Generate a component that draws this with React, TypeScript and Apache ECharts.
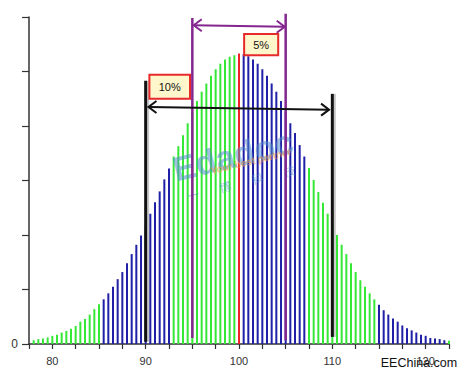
import React, { useEffect, useRef } from "react";
import * as echarts from "echarts";

// bar positions (x values) and heights (arbitrary units, y axis 0..6)
const positions = [
  78, 78.5, 79, 79.5, 80, 80.5, 81, 81.5, 82, 82.5, 83, 83.5, 84, 84.5, 85,
  85.5, 86, 86.5, 87, 87.5, 88, 88.5, 89, 89.5, 90, 90.5, 91, 91.5, 92, 92.5,
  93, 93.5, 94, 94.5, 95, 95.5, 96, 96.5, 97, 97.5, 98, 98.5, 99, 99.5,
  100,
  100.5, 101, 101.5, 102, 102.5, 103, 103.5, 104, 104.5, 105, 105.5, 106, 106.5, 107,
  107.5, 108, 108.5, 109, 109.5, 110, 110.5, 111, 111.5, 112, 112.5, 113, 113.5, 114, 114.5,
  115, 115.5, 116, 116.5, 117, 117.5, 118, 118.5, 119, 119.5, 120, 120.5, 121, 121.5, 122,
  122.5,
];
const heights = [
  0.07, 0.09, 0.1, 0.12, 0.15, 0.17, 0.21, 0.24, 0.28, 0.33, 0.41, 0.46, 0.54, 0.64, 0.73,
  0.82, 0.93, 1.05, 1.19, 1.32, 1.48, 1.65, 1.82, 1.99, 2.18, 2.39, 2.6, 2.8, 3.02, 3.22,
  3.44, 3.63, 3.83, 4.05, 4.26, 4.46, 4.63, 4.78, 4.92, 5.04, 5.14, 5.22, 5.27, 5.3,
  5.33,
  5.32, 5.28, 5.22, 5.14, 5.04, 4.92, 4.78, 4.63, 4.46, 4.26, 4.05, 3.87, 3.65, 3.44,
  3.23, 3.01, 2.79, 2.59, 2.39, 2.18, 2.0, 1.82, 1.65, 1.48, 1.32, 1.17, 1.05, 0.93, 0.82,
  0.72, 0.62, 0.54, 0.47, 0.41, 0.34, 0.29, 0.25, 0.21, 0.17, 0.15, 0.11, 0.1, 0.09, 0.07,
  0.06,
];
// colour bands: last x of each band and its colour
const bandEnds = [85, 92.5, 99.5, 100, 107, 114.5, 122, 122.5];
const bandColors = ["#35e835", "#1f1fa8", "#35e835", "#f02424", "#1f1fa8", "#35e835", "#1f1fa8", "#35e835"];

const xLabels = [80, 90, 100, 110, 120];
const yLabels = [0];

// annotation values (data units)
const tolerance10 = [90, 110];
const tolerance5 = [95, 105];
const label10 = "10%";
const label5 = "5%";

const BLUE = "#1f1fa8";
const PURPLE = "#84268f";

function colorFor(x: number) {
  for (let i = 0; i < bandEnds.length; i++) if (x <= bandEnds[i]) return bandColors[i];
  return bandColors[bandColors.length - 1];
}

export default function App() {
  const ref = useRef<HTMLDivElement>(null);
  useEffect(() => {
    if (!ref.current) return;
    const chart = echarts.init(ref.current, undefined, { renderer: "svg" });
    chart.setOption({
      animation: false,
      backgroundColor: "#ffffff",
      grid: { left: 29, right: 13, top: 17, bottom: 33 },
      xAxis: {
        type: "value",
        min: 77.5,
        max: 122.5,
        interval: 2.5,
        splitLine: { show: false },
        axisLine: { lineStyle: { color: "#333", width: 1.5 } },
        axisTick: { length: 5, lineStyle: { color: "#333", width: 1.2 } },
        axisLabel: {
          margin: 11,
          color: "#333",
          fontSize: 11,
          fontFamily: "Liberation Sans",
          formatter: (v: number) => (xLabels.indexOf(v) >= 0 ? String(v) : ""),
        },
      },
      yAxis: {
        type: "value",
        min: 0,
        max: 6,
        interval: 1,
        splitLine: { show: false },
        axisLine: { show: true, lineStyle: { color: "#333", width: 1.5 } },
        axisTick: { show: true, length: 7, lineStyle: { color: "#333", width: 1.2 } },
        axisLabel: {
          margin: 11,
          color: "#333",
          fontSize: 12,
          fontFamily: "Liberation Sans",
          formatter: (v: number) => (yLabels.indexOf(v) >= 0 ? String(v) : ""),
        },
      },
      series: [
        {
          type: "bar",
          barWidth: 2,
          data: positions.map((x, i) => ({
            value: [x, heights[i]],
            itemStyle: { color: colorFor(x) },
          })),
        },
      ],
    });

    const px = (x: number, y: number) =>
      chart.convertToPixel({ xAxisIndex: 0, yAxisIndex: 0 }, [x, y]) as number[];

    const g: any[] = [];
    const line = (a: number[], b: number[], color: string, w: number, z = 50) =>
      g.push({ type: "line", z, shape: { x1: a[0], y1: a[1], x2: b[0], y2: b[1] }, style: { stroke: color, lineWidth: w } });
    const arrow = (l: number[], r: number[], color: string, w: number) => {
      line(l, r, color, w, 60);
      g.push({ type: "polyline", z: 60, shape: { points: [[l[0] + 8, l[1] - 6], [l[0], l[1]], [l[0] + 8, l[1] + 6]] }, style: { stroke: color, lineWidth: w, fill: null } });
      g.push({ type: "polyline", z: 60, shape: { points: [[r[0] - 8, r[1] - 6], [r[0], r[1]], [r[0] - 8, r[1] + 6]] }, style: { stroke: color, lineWidth: w, fill: null } });
    };
    const box = (tl: number[], br: number[], text: string) => {
      g.push({ type: "rect", z: 70, shape: { x: tl[0], y: tl[1], width: br[0] - tl[0], height: br[1] - tl[1] }, style: { fill: "#fff7cc", stroke: "#e62a2a", lineWidth: 2 } });
      g.push({ type: "text", z: 71, x: (tl[0] + br[0]) / 2, y: (tl[1] + br[1]) / 2, style: { text, fill: "#111", font: "11px 'Liberation Sans'", align: "center", verticalAlign: "middle", textAlign: "center", textVerticalAlign: "middle" } });
    };

    // watermark
    const wm = px(100, 3.5);
    const rot = 0.24;
    g.push({ type: "text", z: 40, x: wm[0] - 6, y: wm[1] + 2, rotation: rot, style: { text: "Edadoc", fill: "rgba(80,140,205,0.55)", font: "bold 34px 'Liberation Sans'", align: "center", verticalAlign: "middle", textAlign: "center", textVerticalAlign: "middle" } });
    g.push({ type: "text", z: 41, x: wm[0] + 12, y: wm[1] + 8, rotation: rot, style: { text: "Your best partner", fill: "rgba(245,150,60,0.6)", font: "bold 10px 'Liberation Sans'", align: "center", verticalAlign: "middle", textAlign: "center", textVerticalAlign: "middle" } });
    ["一", "博", "科", "技"].forEach((c, i) => {
      g.push({ type: "text", z: 41, x: wm[0] - 46 + i * 32, y: wm[1] + 41 - i * 8, rotation: rot, style: { text: c, fill: "rgba(80,140,205,0.5)", font: "12px 'Noto Sans CJK SC'", align: "center", verticalAlign: "middle", textAlign: "center", textVerticalAlign: "middle" } });
    });

    // 10% tolerance (black)
    const [b1, b2] = tolerance10;
    line(px(b1, 0.04).map((v, i) => v + (i === 0 ? 2.5 : 0)), px(b1, 4.83).map((v, i) => v + (i === 0 ? 2.5 : 0)), "rgba(0,0,0,0.22)", 2);
    line(px(b2, 0.13).map((v, i) => v + (i === 0 ? 2.5 : 0)), px(b2, 4.59).map((v, i) => v + (i === 0 ? 2.5 : 0)), "rgba(0,0,0,0.22)", 2);
    line(px(b1, 0.04), px(b1, 4.83), "#111", 3);
    line(px(b2, 0.13), px(b2, 4.59), "#111", 3);
    arrow(px(b1 + 0.3, 4.35), px(b2 - 0.35, 4.3), "#111", 2);

    // 5% tolerance (purple)
    const [p1, p2] = tolerance5;
    line(px(p1, 0.11), px(p1, 5.98), PURPLE, 2.5);
    line(px(p2, 0.07), px(p2, 6.06), PURPLE, 2.5);
    arrow(px(p1 + 0.15, 5.85), px(p2 - 0.1, 5.82), PURPLE, 2);

    box(px(90.4, 4.94), px(94.75, 4.5), label10);
    box(px(100.55, 5.69), px(104.2, 5.3), label5);

    g.push({ type: "text", z: 80, x: 419, y: 363, style: { text: "EEChina.com", fill: "#111", font: "12.5px 'Liberation Sans'", align: "center", verticalAlign: "middle", textAlign: "center", textVerticalAlign: "middle" } });

    chart.setOption({ graphic: g });
    return () => chart.dispose();
  }, []);
  return <div ref={ref} style={{ position: "fixed", left: 0, top: 0, width: 462, height: 377 }} />;
}
